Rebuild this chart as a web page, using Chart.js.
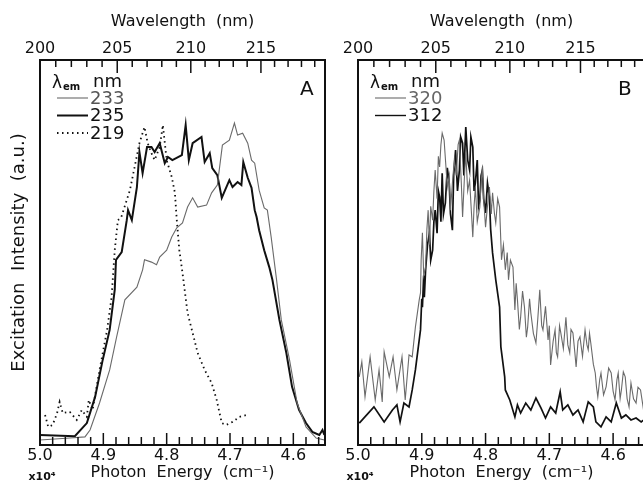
<!DOCTYPE html>
<html>
<head>
<meta charset="utf-8">
<script src="https://cdn.jsdelivr.net/npm/chart.js@4.4.0/dist/chart.umd.min.js"></script>
<style>
  html, body { margin: 0; padding: 0; background: #fff; width: 643px; height: 484px; overflow: hidden; }
  .panel { position: absolute; top: 0; }
  #chartA { left: 0; }
  #chartB { left: 318px; }
</style>
</head>
<body>
<canvas id="chartA" class="panel" width="336" height="484"></canvas>
<canvas id="chartB" class="panel" width="340" height="484"></canvas>
<script>
// axis ticks
const ENERGY_TICKS = [5.0, 4.9, 4.8, 4.7, 4.6];        // x10^4 cm^-1
const WAVELENGTH_TICKS = [200, 205, 210, 215];          // nm

// panel A, emission 233 nm
const a233Energy = [5.000,4.953,4.929,4.921,4.906,4.890,4.879,4.866,4.847,4.838,4.835,4.824,4.816,4.811,4.800,4.792,4.784,4.775,4.767,4.759,4.751,4.737,4.729,4.720,4.713,4.712,4.701,4.693,4.688,4.680,4.672,4.666,4.661,4.654,4.646,4.641,4.635,4.627,4.619,4.606,4.594,4.580,4.564,4.551];
const a233Intensity = [1.3,1.8,2.1,3.9,10.9,19.5,28.1,37.7,41.0,45.5,48.1,47.5,46.8,48.8,50.6,54.0,56.4,57.7,61.8,64.2,61.8,62.3,65.5,67.5,76.6,77.9,79.2,83.6,80.5,81.0,78.4,74.0,73.2,66.2,61.6,61.0,54.0,43.6,32.5,22.1,10.9,4.7,1.8,1.3];

// panel A, emission 235 nm
const a235Energy = [5.000,4.945,4.926,4.913,4.901,4.890,4.882,4.880,4.871,4.863,4.861,4.855,4.847,4.843,4.838,4.831,4.824,4.819,4.811,4.803,4.798,4.791,4.776,4.770,4.765,4.759,4.745,4.740,4.732,4.728,4.720,4.713,4.701,4.696,4.688,4.682,4.679,4.672,4.666,4.661,4.658,4.654,4.646,4.638,4.633,4.622,4.611,4.602,4.591,4.580,4.570,4.559,4.554,4.551];
const a235Intensity = [2.6,2.3,5.7,12.5,22.1,29.9,40.3,48.1,50.1,58.4,61.0,58.4,67.0,76.1,70.6,77.4,77.4,76.1,78.4,73.2,74.8,74.0,75.3,83.1,74.0,78.4,80.0,73.5,75.8,71.9,70.1,64.2,68.8,67.0,68.3,67.5,73.5,69.4,66.8,61.0,59.2,55.8,50.6,46.2,42.9,32.5,23.9,15.1,9.1,5.7,3.4,2.6,3.9,2.6];

// panel A, emission 219 nm
const a219Energy = [4.992,4.987,4.980,4.973,4.969,4.964,4.953,4.942,4.934,4.926,4.923,4.917,4.906,4.894,4.887,4.882,4.877,4.872,4.858,4.843,4.835,4.830,4.824,4.819,4.811,4.806,4.800,4.792,4.787,4.784,4.780,4.775,4.767,4.759,4.751,4.740,4.729,4.721,4.713,4.706,4.696,4.685,4.674];
const a219Intensity = [7.8,4.7,5.2,8.3,11.2,8.3,8.6,6.5,9.1,7.3,11.7,9.1,19.5,29.9,38.4,50.6,58.4,59.0,66.2,78.4,82.6,78.4,75.8,74.0,77.4,83.1,74.0,69.6,65.5,58.4,50.6,44.7,34.3,29.1,23.9,19.5,16.1,11.7,5.7,5.2,6.0,7.3,7.8];

// panel B, emission 320 nm
const b320Energy = [4.998,4.994,4.989,4.981,4.973,4.967,4.962,4.959,4.951,4.945,4.939,4.931,4.926,4.920,4.915,4.910,
  4.904,4.902,4.901,4.899,4.897,4.894,4.892,4.890,4.888,4.886,4.883,4.881,4.879,4.876,4.874,4.872,4.870,4.868,4.865,4.862,4.860,4.857,4.855,4.852,4.849,4.846,4.843,4.841,4.838,4.836,4.833,4.831,4.828,4.825,4.822,4.820,4.818,4.816,4.813,4.809,4.807,4.805,4.803,4.800,4.797,4.794,4.791,4.789,4.786,4.784,4.781,4.778,
  4.775,4.772,4.769,4.766,4.764,4.761,4.757,4.754,4.752,4.750,4.747,4.745,4.742,4.739,4.736,4.734,4.731,4.729,4.725,4.721,4.718,4.715,4.712,4.710,4.706,4.702,4.700,4.698,4.694,4.691,4.689,4.687,4.684,4.682,4.678,4.674,4.671,4.668,4.666,4.663,4.660,4.658,4.655,4.652,4.648,4.644,4.641,4.639,4.637,4.635,4.631,4.628,4.626,4.624,4.621,4.619,4.615,4.611,4.607,4.603,4.600,4.597,4.594,4.592,4.589,4.587,4.584,4.581,4.578,4.575,4.572,4.568,4.564,4.561,4.557,4.553,4.549];
const b320Intensity = [17.7,21.6,12.5,22.9,11.7,19.5,11.2,24.2,17.7,22.9,14.3,22.9,11.7,23.4,22.9,30.6,
  37.7,39.5,48.0,55.1,44.0,46.2,56.0,61.0,52.0,62.0,58.4,66.0,71.4,64.0,75.0,72.2,78.0,81.0,79.2,72.0,67.0,70.0,61.0,68.0,74.0,70.0,78.0,79.2,68.0,59.2,70.0,75.8,66.0,68.8,60.0,54.0,62.0,67.0,58.0,61.8,68.0,72.2,64.0,56.6,62.0,67.0,60.0,65.5,60.0,57.7,64.0,61.8,
  48.1,52.0,45.5,50.0,42.9,48.0,46.2,35.1,42.0,37.7,30.0,33.2,40.0,35.8,28.0,30.6,38.0,34.3,29.0,26.5,33.0,40.3,31.0,29.9,36.0,27.3,31.0,20.8,27.0,29.9,24.0,22.9,31.0,29.1,25.0,33.2,26.0,23.9,30.0,29.1,24.0,20.3,27.0,28.1,23.0,29.9,26.0,24.7,29.0,26.5,21.0,18.7,15.0,12.5,17.0,18.7,13.0,15.1,20.0,18.7,14.0,11.7,17.0,18.7,12.0,14.3,19.0,17.7,12.0,9.9,16.1,12.0,10.9,15.0,14.3,9.9,13.0];

// panel B, emission 312 nm
const b312Energy = [4.998,4.975,4.959,4.946,4.939,4.934,4.928,4.920,4.915,4.910,
  4.902,4.900,4.899,4.897,4.896,4.894,4.891,4.888,4.886,4.883,4.881,4.879,4.876,4.874,4.872,4.870,4.868,4.866,4.863,4.860,4.857,4.855,4.852,4.850,4.847,4.844,4.841,4.839,4.836,4.834,4.831,4.828,4.825,4.823,4.820,4.818,4.816,4.813,4.811,4.809,4.807,4.805,4.803,4.800,4.797,4.794,4.792,4.789,
  4.784,4.778,4.776,4.770,4.769,4.762,4.754,4.750,4.745,4.737,4.729,4.721,4.713,4.706,4.698,4.690,4.683,4.679,4.671,4.663,4.655,4.647,4.639,4.631,4.627,4.619,4.611,4.603,4.595,4.587,4.580,4.572,4.564,4.556,4.548];
const b312Intensity = [5.7,9.9,6.0,9.1,10.4,6.0,10.9,9.9,14.3,19.5,
  29.9,38.0,35.8,44.0,38.4,45.5,52.0,55.1,48.0,50.6,58.0,61.0,55.0,66.0,64.4,58.0,70.6,60.0,62.9,72.0,68.1,60.0,55.8,70.0,76.6,66.0,71.4,80.0,78.4,70.0,82.6,74.0,71.4,80.0,77.4,66.0,68.1,74.0,62.0,63.6,70.0,71.4,64.0,60.3,68.0,64.4,56.0,49.9,
  42.9,35.8,25.5,17.7,14.3,11.7,7.3,10.4,8.3,10.9,9.1,12.2,9.6,7.0,9.9,8.3,13.8,9.1,10.4,7.8,9.1,6.0,11.2,9.9,6.0,4.7,7.3,6.0,10.9,7.0,7.8,6.5,7.0,6.0,7.0];

const A_LABELS = ['233', '235', '219'];
const B_LABELS = ['320', '312'];

const FONT = 'DejaVu Sans';
const INK = '#111';
const GRAY = '#6a6a6a';

function toPoints(xs, ys) {
  return xs.map((x, i) => ({ x: x, y: ys[i] }));
}

function line(xs, ys, color, width, dash) {
  return {
    data: toPoints(xs, ys),
    borderColor: color,
    borderWidth: width,
    borderDash: dash || [],
    pointRadius: 0,
    tension: 0,
    fill: false
  };
}

// inward ticks on the energy axis (bottom)
const bottomTicks = {
  id: 'bottomTicks',
  afterDraw(chart) {
    const ctx = chart.ctx;
    const { right, bottom } = chart.chartArea;
    const xs = chart.scales.x;
    ctx.save();
    ctx.setLineDash([]);
    ctx.strokeStyle = INK;
    ctx.lineWidth = 1.5;
    for (let k = 0; k < 40; k++) {
      const px = xs.getPixelForValue(5 - k * 0.02);
      if (px > right) break;
      const len = k % 5 === 0 ? 12 : 8;
      ctx.beginPath(); ctx.moveTo(px, bottom); ctx.lineTo(px, bottom - len); ctx.stroke();
    }
    ctx.restore();
  }
};

// inward ticks on the wavelength axis (top), one per nm
const topTicks = {
  id: 'topTicks',
  afterDraw(chart) {
    const ctx = chart.ctx;
    const { right, top } = chart.chartArea;
    const xs = chart.scales.x;
    ctx.save();
    ctx.setLineDash([]);
    ctx.strokeStyle = INK;
    ctx.lineWidth = 1.5;
    for (let k = 0; k < 25; k++) {
      const px = xs.getPixelForValue(1000 / (200 + k));
      if (px > right) break;
      const len = k % 5 === 0 ? 13 : 7;
      ctx.beginPath(); ctx.moveTo(px, top); ctx.lineTo(px, top + len); ctx.stroke();
    }
    ctx.restore();
  }
};

// frame, legend, panel letter
const framePlugin = {
  id: 'frame',
  afterDraw(chart, args, opts) {
    const ctx = chart.ctx;
    const { left, right, top, bottom } = chart.chartArea;
    ctx.save();
    ctx.setLineDash([]);
    ctx.strokeStyle = INK;
    ctx.lineWidth = 2;
    ctx.strokeRect(left, top, right - left, bottom - top);

    ctx.fillStyle = INK;
    ctx.textBaseline = 'alphabetic';
    ctx.font = '17px "' + FONT + '"';
    ctx.fillText('λ', left + 12, top + 28);
    ctx.font = 'bold 10px "' + FONT + '"';
    ctx.fillText('em', left + 23, top + 30);
    ctx.font = '18px "' + FONT + '"';
    ctx.fillText('nm', left + 53, top + 27);
    opts.entries.forEach((e, i) => {
      const y = top + 38 + i * 17.5;
      ctx.strokeStyle = e.color;
      ctx.lineWidth = e.width;
      ctx.setLineDash(e.dash || []);
      ctx.beginPath(); ctx.moveTo(left + 17, y); ctx.lineTo(left + 48, y); ctx.stroke();
      ctx.setLineDash([]);
      ctx.fillStyle = e.text;
      ctx.textBaseline = 'middle';
      ctx.font = '18px "' + FONT + '"';
      ctx.fillText(e.label, left + 50, y + 1);
    });

    ctx.fillStyle = INK;
    ctx.textBaseline = 'alphabetic';
    ctx.font = '20px "' + FONT + '"';
    ctx.fillText(opts.letter, left + 260, top + 35);

    ctx.font = 'bold 11px "' + FONT + '"';
    ctx.textAlign = 'center';
    ctx.fillText('x10⁴', left + 2, 480);
    ctx.restore();
  }
};

function makeOptions(cfg) {
  const tickFont = { family: FONT, size: 16 };
  const titleFont = { family: FONT, size: 16 };
  return {
    responsive: false,
    animation: false,
    layout: { padding: { left: 0, right: cfg.padRight, top: 0, bottom: 0 } },
    plugins: {
      legend: { display: false },
      tooltip: { enabled: false },
      frame: cfg.frame
    },
    scales: {
      x: {
        type: 'linear', position: 'bottom', min: 4.55, max: 5.0, reverse: true,
        afterFit: s => { s.height = 39; },
        afterBuildTicks: s => { s.ticks = ENERGY_TICKS.map(v => ({ value: v })); },
        grid: { display: false, drawTicks: false },
        border: { display: false },
        ticks: { autoSkip: false, maxRotation: 0, padding: 1, color: INK, font: tickFont,
                 callback: v => v.toFixed(1) },
        title: { display: true, text: 'Photon  Energy  (cm⁻¹)', color: INK, font: titleFont,
                 padding: { top: 0, bottom: 2 } }
      },
      x2: {
        type: 'linear', position: 'top', min: 4.55, max: 5.0, reverse: true,
        afterFit: s => { s.height = 60; },
        afterBuildTicks: s => { s.ticks = WAVELENGTH_TICKS.map(w => ({ value: 1000 / w })); },
        grid: { display: false, drawTicks: false },
        border: { display: false },
        ticks: { autoSkip: false, maxRotation: 0, padding: 2, color: INK, font: tickFont,
                 callback: v => String(Math.round(1000 / v)) },
        title: { display: true, text: 'Wavelength  (nm)', color: INK, font: titleFont,
                 padding: { top: 12, bottom: 0 } }
      },
      y: {
        min: 0, max: 100,
        afterFit: s => { s.width = 40; },
        grid: { display: false, drawTicks: false },
        border: { display: false },
        ticks: { display: false },
        title: { display: cfg.yTitle, text: 'Excitation  Intensity  (a.u.)', color: INK,
                 font: { family: FONT, size: 18 }, padding: { top: 9, bottom: 0 } }
      }
    }
  };
}

new Chart(document.getElementById('chartA'), {
  type: 'line',
  data: {
    datasets: [
      line(a233Energy, a233Intensity, GRAY, 1.1),
      line(a219Energy, a219Intensity, INK, 1.8, [1.5, 3.5]),
      line(a235Energy, a235Intensity, INK, 2)
    ]
  },
  options: makeOptions({
    padRight: 11,
    yTitle: true,
    frame: {
      letter: 'A',
      entries: [
        { label: A_LABELS[0], color: GRAY, width: 1.1, text: '#555' },
        { label: A_LABELS[1], color: INK, width: 2, text: INK },
        { label: A_LABELS[2], color: INK, width: 1.8, dash: [1.5, 3.5], text: INK }
      ]
    }
  }),
  plugins: [bottomTicks, topTicks, framePlugin]
});

new Chart(document.getElementById('chartB'), {
  type: 'line',
  data: {
    datasets: [
      line(b320Energy, b320Intensity, GRAY, 1.1),
      line(b312Energy, b312Intensity, INK, 1.7)
    ]
  },
  options: makeOptions({
    padRight: 13,
    yTitle: false,
    frame: {
      letter: 'B',
      entries: [
        { label: B_LABELS[0], color: GRAY, width: 1.1, text: '#666' },
        { label: B_LABELS[1], color: INK, width: 1.4, text: INK }
      ]
    }
  }),
  plugins: [bottomTicks, topTicks, framePlugin]
});
</script>
</body>
</html>
